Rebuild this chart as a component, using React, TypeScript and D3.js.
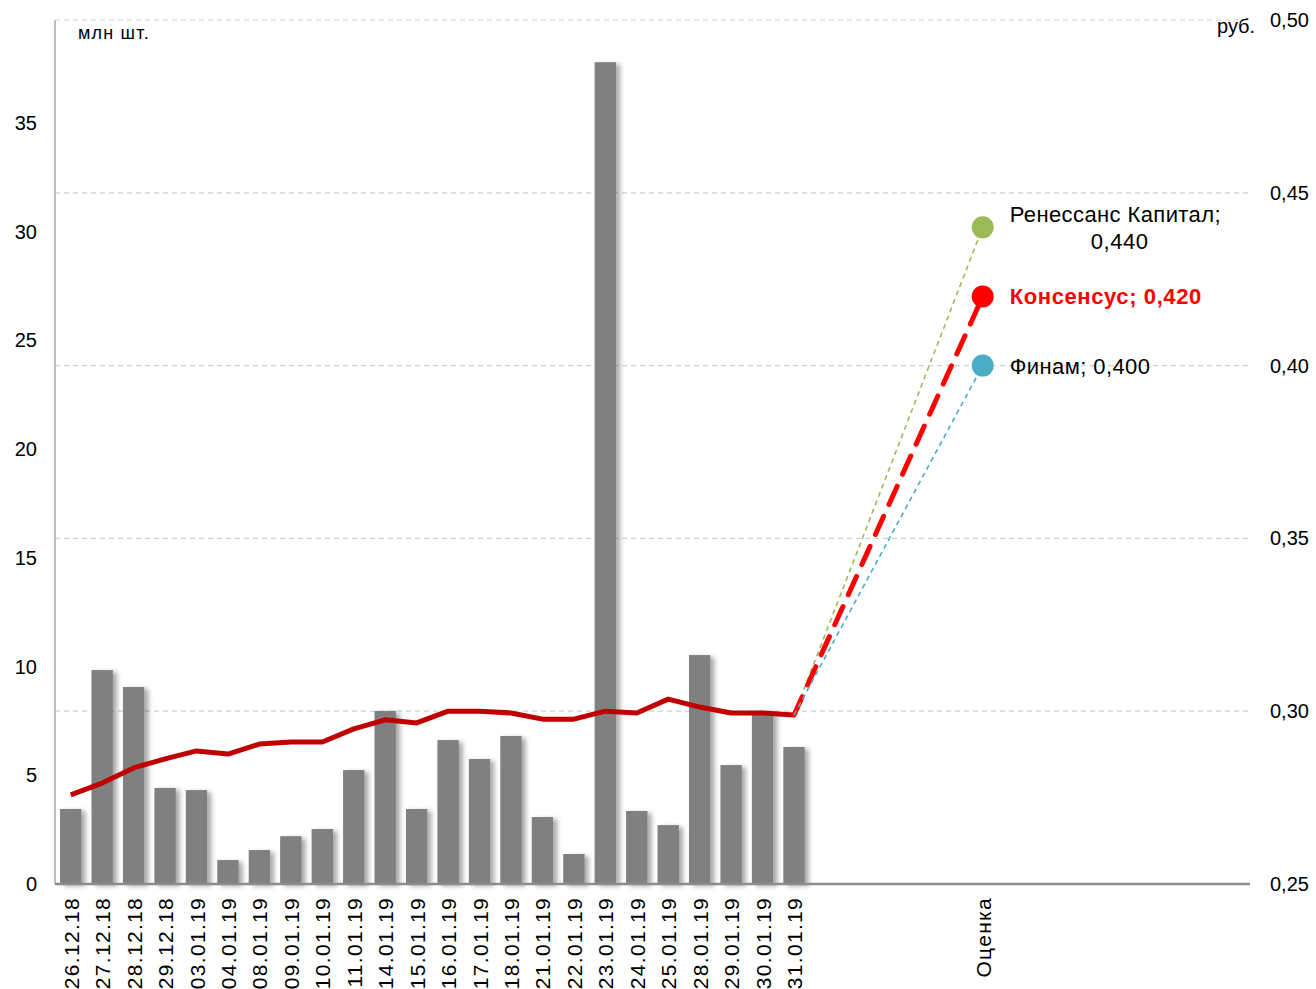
import React from 'react';
import * as d3 from 'd3';

const dates = [
  '26.12.18', '27.12.18', '28.12.18', '29.12.18', '03.01.19', '04.01.19', '08.01.19', '09.01.19',
  '10.01.19', '11.01.19', '14.01.19', '15.01.19', '16.01.19', '17.01.19', '18.01.19', '21.01.19',
  '22.01.19', '23.01.19', '24.01.19', '25.01.19', '28.01.19', '29.01.19', '30.01.19', '31.01.19',
];
const volume = [
  3.45, 9.84, 9.06, 4.42, 4.32, 1.1, 1.56, 2.2, 2.53, 5.24, 7.96, 3.45,
  6.62, 5.75, 6.81, 3.08, 1.38, 37.8, 3.36, 2.71, 10.53, 5.47, 7.96, 6.3,
];
const price = [
  0.2758, 0.2792, 0.2836, 0.2862, 0.2885, 0.2876, 0.2905, 0.2911, 0.2911, 0.2949, 0.2975, 0.2966,
  0.3, 0.3, 0.2995, 0.2977, 0.2977, 0.3, 0.2995, 0.3035, 0.3012, 0.2995, 0.2995, 0.2989,
];
const estimateLabel = 'Оценка';
const forecasts = [
  { name: 'Ренессанс Капитал', value: 0.44, color: '#9bbb59' },
  { name: 'Консенсус', value: 0.42, color: '#ff0000' },
  { name: 'Финам', value: 0.4, color: '#4bacc6' },
];
const leftTicks = [0, 5, 10, 15, 20, 25, 30, 35];
const rightTicks = [0.25, 0.3, 0.35, 0.4, 0.45, 0.5];

const width = 1316;
const height = 989;
const margin = { top: 20, right: 66, bottom: 105, left: 55 };
const font = '"Liberation Sans", Arial, sans-serif';

// 24 dates, 5 empty slots, the estimate, 8 more empty slots
const categories = [
  ...dates,
  ...d3.range(5).map(i => `gapA${i}`),
  estimateLabel,
  ...d3.range(8).map(i => `gapB${i}`),
];

const fmt = (v: number, digits: number) => v.toFixed(digits).replace('.', ',');

export default function App() {
  const innerW = width - margin.left - margin.right;
  const innerH = height - margin.top - margin.bottom;
  const x = d3.scaleBand().domain(categories).range([margin.left, margin.left + innerW]).padding(0);
  const yL = d3.scaleLinear().domain([0, 39.74]).range([margin.top + innerH, margin.top]);
  const yR = d3.scaleLinear().domain([0.25, 0.5]).range([margin.top + innerH, margin.top]);
  const barW = x.bandwidth() * 0.68;
  const cx = (c: string) => (x(c) || 0) + x.bandwidth() / 2;
  const bottom = margin.top + innerH;
  const right = margin.left + innerW;

  const line = d3.line<number>()
    .x((_, i) => cx(dates[i]))
    .y(d => yR(d));

  const lastX = cx(dates[dates.length - 1]);
  const lastY = yR(price[price.length - 1]);
  const estX = cx(estimateLabel);

  return (
    <svg width={width} height={height} style={{ position: 'absolute', left: 0, top: 0, background: '#fff' }}>
      <defs>
        <filter id="shadow" x="-30%" y="-5%" width="170%" height="110%">
          <feGaussianBlur in="SourceAlpha" stdDeviation="2.5" />
          <feOffset dx="4" dy="2" result="b" />
          <feComponentTransfer><feFuncA type="linear" slope="0.35" /></feComponentTransfer>
          <feMerge><feMergeNode /><feMergeNode in="SourceGraphic" /></feMerge>
        </filter>
      </defs>

      {rightTicks.slice(1).map(t => (
        <line key={t} x1={margin.left} x2={right} y1={yR(t)} y2={yR(t)}
          stroke="#d0d0d0" strokeWidth={1.2} strokeDasharray="5,4" />
      ))}

      <line x1={margin.left} x2={margin.left} y1={margin.top} y2={bottom} stroke="#bdbdbd" strokeWidth={2} />

      <g filter="url(#shadow)">
        {volume.map((v, i) => (
          <rect key={dates[i]} x={cx(dates[i]) - barW / 2} y={yL(v)} width={barW}
            height={bottom - yL(v)} fill="#808080" />
        ))}
      </g>

      <line x1={margin.left} x2={right} y1={bottom} y2={bottom} stroke="#8c8c8c" strokeWidth={2.5} />

      <path d={line(price) || ''} fill="none" stroke="#c00000" strokeWidth={5} strokeLinejoin="round" />

      {forecasts.map(f => (
        <line key={f.name} x1={lastX} y1={lastY} x2={estX} y2={yR(f.value)} stroke={f.color}
          strokeWidth={f.name === 'Консенсус' ? 5 : 1.6}
          strokeDasharray={f.name === 'Консенсус' ? '20,13' : '5,4'}
          strokeLinecap={f.name === 'Консенсус' ? 'round' : 'butt'} />
      ))}
      {forecasts.map(f => (
        <circle key={f.name} cx={estX} cy={yR(f.value)} r={11} fill={f.color} />
      ))}

      <g fontFamily={font} fontSize={22} fill="#000">
        <text x={estX + 27} y={yR(0.44) - 5} letterSpacing={0.4}>Ренессанс Капитал;</text>
        <text x={estX + 137} y={yR(0.44) + 22} textAnchor="middle" letterSpacing={0.6}>{fmt(0.44, 3)}</text>
        <text x={estX + 27} y={yR(0.42) + 8} fill="#ff0000" fontWeight="bold" letterSpacing={0.6}>Консенсус; {fmt(0.42, 3)}</text>
        <text x={estX + 27} y={yR(0.4) + 8} letterSpacing={0.4}>Финам; {fmt(0.4, 3)}</text>
      </g>

      <g fontFamily={font} fontSize={20} fill="#000">
        {leftTicks.map(t => (
          <text key={t} x={37} y={yL(t) + 7} textAnchor="end">{t}</text>
        ))}
        {rightTicks.map(t => (
          <text key={t} x={1270} y={yR(t) + 7}>{fmt(t, 2)}</text>
        ))}
        <text x={1217} y={33}>руб.</text>
      </g>
      <g fontFamily={font} fontSize={21} fill="#000" letterSpacing={1.3}>
        {[...dates, estimateLabel].map(c => (
          <text key={c} transform={`translate(${cx(c) + 8},${bottom + 13}) rotate(-90)`} textAnchor="end">{c}</text>
        ))}
      </g>
      <text x={78} y={39} fontFamily={font} fontSize={18} letterSpacing={1.2}>млн шт.</text>
    </svg>
  );
}
